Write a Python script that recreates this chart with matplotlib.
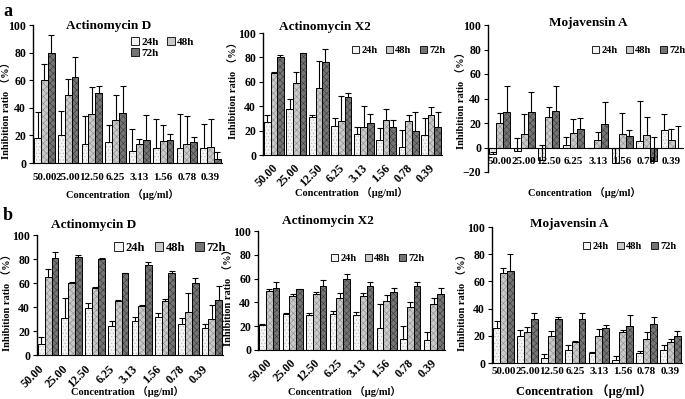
import numpy as np
import matplotlib
matplotlib.use('Agg')
import matplotlib.pyplot as plt
import matplotlib.transforms as mtransforms
from matplotlib.patches import Patch

plt.rcParams['font.family'] = ['Liberation Serif', 'Noto Sans CJK SC', 'DejaVu Sans']
plt.rcParams['font.weight'] = 'bold'
plt.rcParams['hatch.linewidth'] = 0.4

conc = ['50.00', '25.00', '12.50', '6.25', '3.13', '1.56', '0.78', '0.39']
series = ['24h', '48h', '72h']

# row a
actd_a_24 = [18, 20, 14, 15.5, 9, 11, 11, 11]
actd_a_48 = [60, 49, 35.5, 31, 13.5, 16, 13.5, 11.5]
actd_a_72 = [80, 62, 51, 36, 17, 16.5, 15, 3]
actd_a_24_err = [19, 18, 20, 12, 16, 21, 24.5, 17]
actd_a_48_err = [12, 12, 19.5, 18, 4, 11.5, 20.5, 20.5]
actd_a_72_err = [13, 15, 5, 20, 18, 4.5, 3.5, 5]

x2_a_24 = [27, 38, 31, 23.5, 17.5, 12.5, 6.5, 16.5]
x2_a_48 = [67, 59, 55, 28, 23, 28.5, 27.5, 32.5]
x2_a_72 = [80, 84, 76, 47.5, 26, 23, 20, 23]
x2_a_24_err = [6, 8, 2, 6.5, 5.5, 9.5, 14, 14]
x2_a_48_err = [1, 9, 22, 20, 17.5, 9.5, 5.5, 7]
x2_a_72_err = [2, 0, 11, 3.5, 8, 6, 15, 12]

moj_a_24 = [-5, -3, -10, 2, -0.5, -13, 5, 14]
moj_a_48 = [20, 11, 25, 11.5, 6, 11, 10, 6]
moj_a_72 = [29, 29, 30, 15, 19, 9, -11, 0]
moj_a_24_err = [1, 11, 12, 6.5, 0.5, 13, 33, 13]
moj_a_48_err = [8, 16, 8, 12, 6.5, 17, 15, 9.5]
moj_a_72_err = [21, 16, 20, 9, 18, 5.5, 19.5, 17.5]

# row b
actd_b_24 = [9, 31, 39, 24.5, 28, 31.5, 26, 22.5]
actd_b_48 = [65, 60, 55.5, 45, 41, 45, 35.5, 30]
actd_b_72 = [81, 82, 80, 68, 75, 68, 60, 46]
actd_b_24_err = [6, 16.5, 4, 3.5, 4, 3.5, 5, 3.5]
actd_b_48_err = [7, 1, 1, 0.5, 0.5, 1.5, 16.5, 12]
actd_b_72_err = [5, 1.5, 0.5, 0.5, 2.5, 2, 4.5, 11.5]

x2_b_24 = [21, 30, 29, 30, 29.5, 18.5, 9.5, 8.5]
x2_b_48 = [50, 45, 47, 44, 45, 41.5, 36.5, 39]
x2_b_72 = [52, 51, 54, 60, 54, 48.5, 54, 47]
x2_b_24_err = [0.5, 1, 2, 2.5, 2.5, 20.5, 10.5, 6.5]
x2_b_48_err = [1, 2, 1.5, 3.5, 2.5, 5, 4, 4.5]
x2_b_72_err = [5, 0, 5, 4, 3, 3.5, 3, 5]

moj_b_24 = [26, 20, 4, 9.5, 7, 2.5, 7.5, 9.5]
moj_b_48 = [66, 22.5, 19.5, 15.5, 20, 23, 18, 15.5]
moj_b_72 = [68, 32.5, 32, 32, 26, 27, 28.5, 19.5]
moj_b_24_err = [5, 4, 2.5, 3.5, 1, 3, 1.5, 4]
moj_b_48_err = [3.5, 4, 4, 1, 5, 1.5, 5, 2]
moj_b_72_err = [12, 4.5, 2, 5, 2, 8.5, 5.5, 4]

faces = ['#f4f4f4', '#c9c9c9', '#747474']
hatch_cols = ['#b8b8b8', '#8c8c8c', '#3a3a3a']
hatches = ['.....', 'xxxxx', 'xxxxx']

W, H = 685, 399


def box(l, r, t, b):
    return [l / W, 1 - b / H, (r - l) / W, (b - t) / H]


def draw_panel(rect, vals, errs, ymin, rot_shift, tick_pad, title, title_xy, leg_xy, leg_cols, leg_size,
               ylab_xy, xlab_xy, xlab_size=7.5):
    ax = fig.add_axes(rect)
    x = np.arange(len(conc))
    bw = 0.29
    for i in range(3):
        xi = x + (i - 1) * bw
        v = np.array(vals[i])
        e = np.array(errs[i])
        ax.bar(xi, v, bw, color=faces[i], edgecolor=hatch_cols[i], hatch=hatches[i], linewidth=0)
        ax.bar(xi, v, bw, fill=False, edgecolor='black', linewidth=0.7)
        ax.vlines(xi, v, v + e, color='black', linewidth=0.8)
        ax.plot(xi, v + e, linestyle='none', marker='_', markersize=5, markeredgewidth=0.8, color='black')
    ax.set_xlim(-0.48, 7.48)
    ax.set_ylim(ymin, 100)
    ax.set_yticks(np.arange(ymin, 101, 20))
    ax.spines['top'].set_visible(False)
    ax.spines['right'].set_visible(False)
    ax.spines['left'].set_linewidth(1.0)
    ax.spines['bottom'].set_linewidth(0.8)
    ax.spines['bottom'].set_position(('data', 0))
    ax.tick_params(axis='y', direction='out', length=3, width=0.8, labelsize=8.5, pad=2)
    ax.set_xticks(x)
    if rot_shift is not None:
        ax.tick_params(axis='x', length=0, labelsize=8.5, pad=tick_pad)
        ax.set_xticklabels(conc, rotation=45, ha='right', rotation_mode='anchor')
        shift = mtransforms.ScaledTranslation(rot_shift[0] / 100, rot_shift[1] / 100, fig.dpi_scale_trans)
        for lab in ax.get_xticklabels():
            lab.set_transform(lab.get_transform() + shift)
    else:
        # flat labels run into each other in the original, keep them a touch smaller
        ax.tick_params(axis='x', length=0, labelsize=7.9, pad=tick_pad)
        ax.set_xticklabels(conc)
    ax.patch.set_alpha(0)

    fig.text(title_xy[0] / W, 1 - title_xy[1] / H, title, ha='center', va='center', fontsize=9.5, fontweight='bold')
    fig.text(ylab_xy[0] / W, 1 - ylab_xy[1] / H, 'Inhibition ratio （%）', rotation=90,
             ha='center', va='center', fontsize=7.5, fontweight='bold')
    fig.text(xlab_xy[0] / W, 1 - xlab_xy[1] / H, 'Concentration （μg/ml）',
             ha='center', va='center', fontsize=xlab_size, fontweight='bold')

    handles = [Patch(facecolor=faces[i], edgecolor='black', linewidth=0.6) for i in range(3)]
    labels = list(series)
    if leg_cols == 2:
        # matplotlib fills columns first, reorder so 24h/48h sit on the first row
        handles = [handles[0], handles[2], handles[1]]
        labels = [labels[0], labels[2], labels[1]]
    fig.legend(handles, labels, loc='upper left', bbox_to_anchor=(leg_xy[0] / W, 1 - leg_xy[1] / H),
               ncol=leg_cols, frameon=False, fontsize=leg_size, handlelength=0.7, handleheight=0.7,
               handletextpad=0.2, columnspacing=0.8, labelspacing=0.1, borderpad=0, borderaxespad=0)
    return ax


fig = plt.figure(figsize=(W / 100, H / 100), dpi=100)

draw_panel(box(33, 222, 25, 163), [actd_a_24, actd_a_48, actd_a_72],
           [actd_a_24_err, actd_a_48_err, actd_a_72_err], 0, None, 7,
           'Actinomycin D', (109, 26), (131, 37), 2, 8, (7, 108), (122, 195))
draw_panel(box(263, 442, 33, 155), [x2_a_24, x2_a_48, x2_a_72],
           [x2_a_24_err, x2_a_48_err, x2_a_72_err], 0, (-2, -4), 2,
           'Actinomycin X2', (325, 27), (352, 46), 3, 7.5, (234, 88), (351, 193))
draw_panel(box(488, 683, 25, 172), [moj_a_24, moj_a_48, moj_a_72],
           [moj_a_24_err, moj_a_48_err, moj_a_72_err], -20, None, 7,
           'Mojavensin A', (588, 23), (592, 46), 3, 7.5, (462, 98), (584, 193))

draw_panel(box(37, 223, 235, 355), [actd_b_24, actd_b_48, actd_b_72],
           [actd_b_24_err, actd_b_48_err, actd_b_72_err], 0, (-10, -5), 2,
           'Actinomycin D', (94, 225), (114, 242), 3, 9, (8, 300), (127, 392))
draw_panel(box(258, 445, 231, 350), [x2_b_24, x2_b_48, x2_b_72],
           [x2_b_24_err, x2_b_48_err, x2_b_72_err], 0, (-3, -4), 2,
           'Actinomycin X2', (328, 221), (331, 254), 3, 7.5, (229, 295), (344, 392))
draw_panel(box(492, 682, 227, 363), [moj_b_24, moj_b_48, moj_b_72],
           [moj_b_24_err, moj_b_48_err, moj_b_72_err], 0, None, 3,
           'Mojavensin A', (569, 224), (583, 242), 3, 7.5, (463, 300), (584, 391), 9)

fig.text(3 / W, 1 - 12 / H, 'a', ha='left', va='center', fontsize=13, fontweight='bold')
fig.text(3 / W, 1 - 216 / H, 'b', ha='left', va='center', fontsize=13, fontweight='bold')

fig.savefig('out.png', dpi=100)
